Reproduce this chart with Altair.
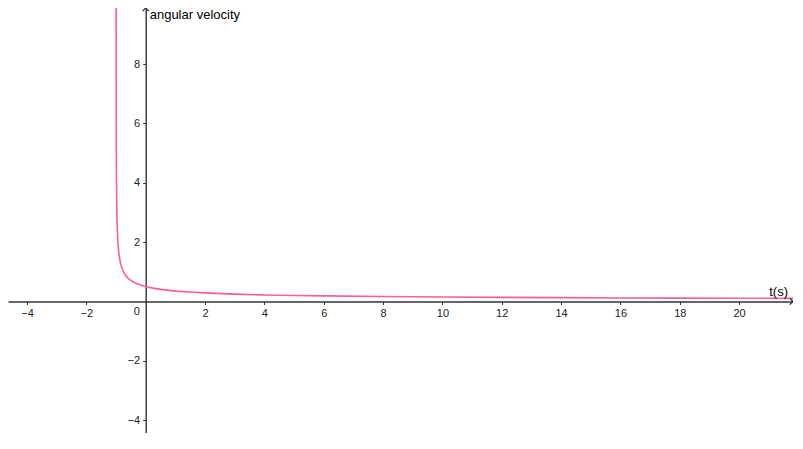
import altair as alt
import pandas as pd

# curve values (t in s, angular velocity)
t_values = [-0.9975, -0.997, -0.995, -0.99, -0.98, -0.97, -0.95, -0.93, -0.9, -0.85,
            -0.8, -0.7, -0.6, -0.5, -0.4, -0.25, 0, 0.25, 0.5, 1, 1.5, 2, 3, 4, 5,
            6, 8, 10, 12, 14, 16, 18, 20, 22]
omega_values = [10.0, 9.13, 7.07, 5.0, 3.54, 2.89, 2.24, 1.89, 1.58, 1.29,
                1.12, 0.91, 0.79, 0.71, 0.65, 0.58, 0.5, 0.45, 0.41, 0.35, 0.32, 0.29, 0.25, 0.22, 0.20,
                0.19, 0.17, 0.15, 0.14, 0.13, 0.12, 0.115, 0.11, 0.105]

x_tick_values = [-4, -2, 2, 4, 6, 8, 10, 12, 14, 16, 18, 20]
y_tick_values = [-4, -2, 2, 4, 6, 8]
x_domain = [-4.641, 21.817]
y_domain = [-4.432, 9.892]

x_title = "t(s)"
y_title = "angular velocity"
origin_label = "0"

W, H = 785, 425
x0px = (0 - x_domain[0]) / (x_domain[1] - x_domain[0]) * W
y0px = (y_domain[1] - 0) / (y_domain[1] - y_domain[0]) * H

FONT = "Liberation Sans"
AXC = "#333333"

xs = alt.Scale(domain=x_domain, nice=False, zero=False)
ys = alt.Scale(domain=y_domain, nice=False, zero=False)

x_axis = alt.Axis(
    values=x_tick_values, orient="bottom", offset=-(H - y0px), title=None, grid=False,
    domainColor=AXC, domainWidth=1.4, tickColor=AXC, tickWidth=1, tickSize=3,
    labelPadding=3, labelFont=FONT, labelFontSize=11, labelColor="#222222",
    labelFlush=False, labelOverlap=False)
y_axis = alt.Axis(
    values=y_tick_values, orient="left", offset=-x0px, title=None, grid=False,
    domainColor=AXC, domainWidth=1.4, tickColor=AXC, tickWidth=1, tickSize=3,
    labelPadding=3, labelFont=FONT, labelFontSize=11, labelColor="#222222",
    labelFlush=False, labelOverlap=False)

X = alt.X("t:Q", scale=xs, axis=x_axis)
Y = alt.Y("w:Q", scale=ys, axis=y_axis)

df = pd.DataFrame({"t": t_values, "w": omega_values})

curve = alt.Chart(df).mark_line(color="#ff5c98", strokeWidth=1.6, clip=True).encode(x=X, y=Y)

ylab_df = pd.DataFrame({"t": [0], "w": [y_domain[1]], "label": [y_title]})
ylab = alt.Chart(ylab_df).mark_text(align="left", baseline="top", dx=4, dy=1,
                                    font=FONT, fontSize=13, color="#000000").encode(
    x=X, y=Y, text="label:N")

xlab_df = pd.DataFrame({"t": [x_domain[1]], "w": [0], "label": [x_title]})
xlab = alt.Chart(xlab_df).mark_text(align="right", baseline="bottom", dx=-5, dy=-3,
                                    font=FONT, fontSize=13, color="#000000").encode(
    x=X, y=Y, text="label:N")

zero_df = pd.DataFrame({"t": [0], "w": [0], "label": [origin_label]})
zero = alt.Chart(zero_df).mark_text(align="center", baseline="middle", dx=-9, dy=10,
                                    font=FONT, fontSize=11, color="#222222").encode(
    x=X, y=Y, text="label:N")

up_df = pd.DataFrame({"t": [0], "w": [y_domain[1]]})
up_arrow = alt.Chart(up_df).mark_point(shape="M-1,1L0,0L1,1", size=40, filled=False,
                                       stroke=AXC, strokeWidth=1.3, opacity=1).encode(x=X, y=Y)

right_df = pd.DataFrame({"t": [x_domain[1]], "w": [0]})
right_arrow = alt.Chart(right_df).mark_point(shape="M-1,-1L0,0L-1,1", size=40, filled=False,
                                             stroke=AXC, strokeWidth=1.3, opacity=1).encode(x=X, y=Y)

chart = alt.layer(curve, ylab, xlab, zero, up_arrow, right_arrow).properties(
    width=W, height=H, autosize=alt.AutoSizeParams(type="none"), padding=0,
    background="white"
).configure_view(stroke=None)

chart.save("out.html", embed_options={"renderer": "svg", "actions": False})
